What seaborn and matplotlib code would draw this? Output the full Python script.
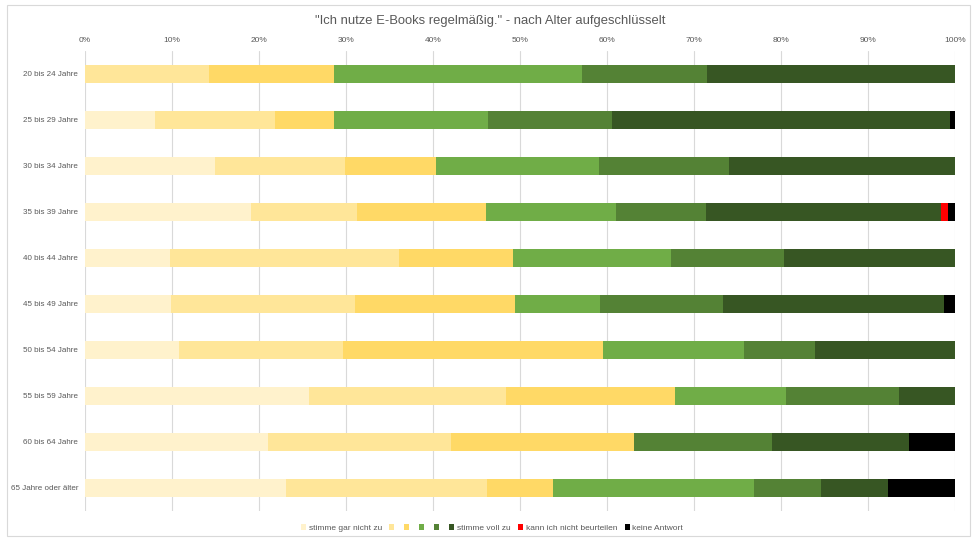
import matplotlib
matplotlib.use("Agg")
import matplotlib.pyplot as plt
from matplotlib.patches import Patch, Rectangle
import numpy as np
import pandas as pd
import seaborn as sns

# Age groups (top to bottom)
groups = ["20 bis 24 Jahre", "25 bis 29 Jahre", "30 bis 34 Jahre", "35 bis 39 Jahre",
          "40 bis 44 Jahre", "45 bis 49 Jahre", "50 bis 54 Jahre", "55 bis 59 Jahre",
          "60 bis 64 Jahre", "65 Jahre oder älter"]

# Answer shares in percent per age group
stimme_gar_nicht_zu = [0.0, 8.1, 14.9, 19.1, 9.8, 9.9, 10.8, 25.8, 21.05, 23.08]
stufe_2 = [14.29, 13.7, 15.0, 12.2, 26.3, 21.1, 18.9, 22.6, 21.05, 23.08]
stufe_3 = [14.29, 6.8, 10.5, 14.8, 13.1, 18.4, 29.8, 19.4, 21.05, 7.69]
stufe_4 = [28.57, 17.7, 18.7, 14.9, 18.1, 9.8, 16.2, 12.8, 0.0, 23.08]
stufe_5 = [14.29, 14.3, 14.9, 10.4, 13.1, 14.1, 8.2, 13.0, 15.79, 7.69]
stimme_voll_zu = [28.57, 38.8, 26.0, 27.0, 19.6, 25.4, 16.1, 6.4, 15.79, 7.69]
kann_ich_nicht_beurteilen = [0.0, 0.0, 0.0, 0.8, 0.0, 0.0, 0.0, 0.0, 0.0, 0.0]
keine_antwort = [0.0, 0.6, 0.0, 0.8, 0.0, 1.3, 0.0, 0.0, 5.26, 7.69]

series_labels = ["stimme gar nicht zu", "", "", "", "", "stimme voll zu",
                 "kann ich nicht beurteilen", "keine Antwort"]
series_values = [stimme_gar_nicht_zu, stufe_2, stufe_3, stufe_4, stufe_5,
                 stimme_voll_zu, kann_ich_nicht_beurteilen, keine_antwort]
colors = ["#FFF2CC", "#FFE699", "#FFD966", "#70AD47", "#548235", "#375623",
          "#FF0000", "#000000"]

tick_values = list(range(0, 101, 10))
tick_labels = [f"{v}%" for v in tick_values]

title = '"Ich nutze E-Books regelmäßig." - nach Alter aufgeschlüsselt'

text_color = "#595959"
font = ["Liberation Sans", "DejaVu Sans"]

sns.set_theme(style="white")
plt.rcParams["font.family"] = font

fig = plt.figure(figsize=(9.73, 5.39), dpi=100)
ax = fig.add_axes([85 / 973, 1 - 511 / 539, 870 / 973, 460 / 539])

# outer chart frame
fig.patches.append(Rectangle((7 / 973, 1 - 536 / 539), 963 / 973, 531 / 539,
                             transform=fig.transFigure, fill=False,
                             edgecolor="#D9D9D9", linewidth=0.8))

# stacked bars: draw cumulative totals from the last series backwards
cum = np.cumsum(np.array(series_values), axis=0)
for k in range(len(series_values) - 1, -1, -1):
    plot_df = pd.DataFrame({"group": groups, "value": cum[k]})
    sns.barplot(data=plot_df, x="value", y="group", orient="h", color=colors[k],
                width=0.4, linewidth=0, saturation=1, ax=ax, zorder=2)

ax.set_xlim(0, 100)
ax.set_ylim(len(groups) - 0.5, -0.5)
ax.set_xticks(tick_values)
ax.set_xticklabels(tick_labels)
ax.xaxis.tick_top()
ax.tick_params(axis="x", length=0, pad=5, labelsize=6, labelcolor=text_color)
ax.tick_params(axis="y", length=0, pad=5, labelsize=5.8, labelcolor=text_color)
ax.set_xlabel("")
ax.set_ylabel("")
ax.grid(axis="x", color="#D9D9D9", linewidth=0.8, zorder=0)
ax.set_axisbelow(True)
for s in ax.spines.values():
    s.set_visible(False)

fig.text(490 / 973, 1 - 21 / 539, title, ha="center", va="center",
         fontsize=9.4, color=text_color)

handles = [Patch(facecolor=c, edgecolor="none") for c in colors]
fig.legend(handles, series_labels, loc="center", bbox_to_anchor=(492 / 973, 1 - 528 / 539),
           ncol=len(handles), frameon=False, fontsize=6, labelcolor=text_color,
           handlelength=0.6, handleheight=0.6, handletextpad=0.3, columnspacing=0.9)

fig.savefig("out.png", dpi=100, facecolor="white")
